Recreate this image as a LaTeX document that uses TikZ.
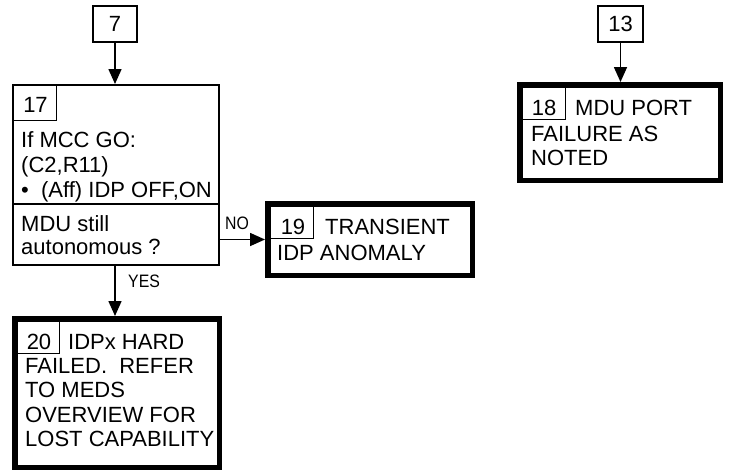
\documentclass[tikz,border=0pt]{standalone}
\usepackage{fontspec}
\setmainfont{Liberation Sans}
\usetikzlibrary{arrows.meta}
\begin{document}
\begin{tikzpicture}[x=1pt,y=-1pt,
  txt/.style={font=\fontsize{22}{26}\selectfont, inner sep=0pt, anchor=base west},
  numtxt/.style={font=\fontsize{22}{26}\selectfont, inner sep=0pt, anchor=base},
  lbl/.style={font=\fontsize{18}{21}\selectfont, inner sep=0pt, anchor=base west},
  thinbox/.style={draw, line width=2pt, rectangle, inner sep=0pt, font=\fontsize{22}{26}\selectfont},
  thickbox/.style={draw, line width=5.5pt, rectangle, inner sep=0pt},
  numbox/.style={draw, line width=1.6pt, rectangle, inner sep=0pt, anchor=north west},
  flow/.style={line width=1.6pt, -{Triangle[length=15pt,width=13pt]}}
]
\useasboundingbox (0,0) rectangle (731,475);

% top connectors
\node[thinbox, minimum width=44pt, minimum height=36pt] (n7) at (115,24) {7};
\node[thinbox, minimum width=45pt, minimum height=36pt] (n13) at (620.5,24) {13};

% box 17
\node[thinbox, minimum width=206pt, minimum height=180pt] (n17) at (116,175) {};
\node[numbox, minimum width=43.5pt, minimum height=35.5pt] (n17num) at (n17.north west) {};
\coordinate (d17) at (0,204);
\draw[line width=2pt] (n17.west |- d17) -- (n17.east |- d17);
\node[numtxt] (t17) at (35.5,112) {17};
\node[txt] (t17a) at (21,147) {If MCC GO:};
\node[txt] (t17b) at (21,172) {(C2,R11)};
\node[txt] (t17c) at (21,197) {\textbullet\ \ (Aff) IDP OFF,ON};
\node[txt] (t17d) at (21,231) {MDU still};
\node[txt] (t17e) at (21,254) {autonomous ?};

% box 19
\node[thickbox, minimum width=204.5pt, minimum height=71.5pt] (n19) at (370,239.5) {};
\node[numbox, minimum width=47.5pt, minimum height=36.5pt] (n19num) at (n19.north west) {};
\node[numtxt] (t19) at (293,234) {19};
\node[txt] (t19a) at (325,234) {TRANSIENT};
\node[txt] (t19b) at (277,260) {IDP ANOMALY};

% box 20
\node[thickbox, minimum width=204.5pt, minimum height=148.5pt] (n20) at (117,393) {};
\node[numbox, minimum width=46.5pt, minimum height=36.5pt] (n20num) at (n20.north west) {};
\node[numtxt] (t20) at (39,349) {20};
\node[txt] (t20a) at (68,349) {IDPx HARD};
\node[txt] (t20b) at (25,373) {FAILED.\ \ REFER};
\node[txt] (t20c) at (25,397) {TO MEDS};
\node[txt] (t20d) at (25,422) {OVERVIEW FOR};
\node[txt] (t20e) at (25,446) {LOST CAPABILITY};

% box 18
\node[thickbox, minimum width=200.5pt, minimum height=95.5pt] (n18) at (620,132.5) {};
\node[numbox, minimum width=47.5pt, minimum height=36.5pt] (n18num) at (n18.north west) {};
\node[numtxt] (t18) at (544,115) {18};
\node[txt] (t18a) at (575,115) {MDU PORT};
\node[txt] (t18b) at (531,141) {FAILURE AS};
\node[txt] (t18c) at (531,165) {NOTED};

% connectors
\draw[flow] (n7) -- (n7 |- n17.north);
\draw[flow] (n13) -- (n13 |- n18.north);
\draw[flow] (n17.east |- n19.west) -- (n19.west);
\draw[flow] (n17.south -| n7) -- (n20.north -| n7);

\node[lbl] (lno) at (225,229) {\scalebox{0.88}[1]{NO}};
\node[lbl] (lyes) at (128,287) {\scalebox{0.88}[1]{YES}};
\end{tikzpicture}
\end{document}
